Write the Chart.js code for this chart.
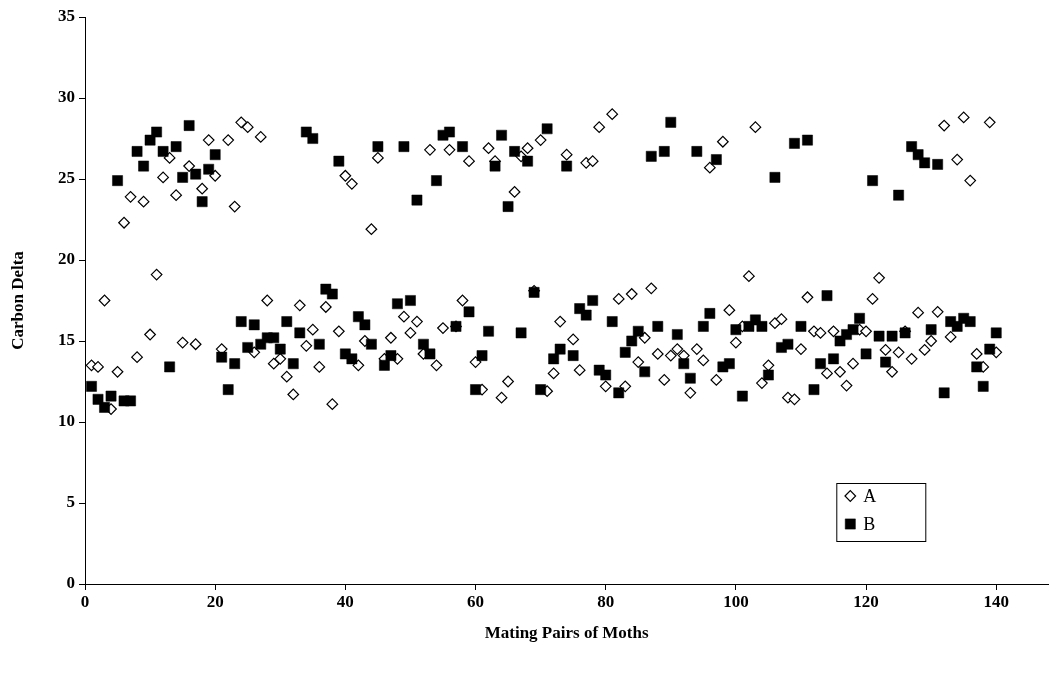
<!DOCTYPE html>
<html>
<head>
<meta charset="utf-8">
<script src="https://cdn.jsdelivr.net/npm/chart.js@4.4.1/dist/chart.umd.min.js"></script>
<style>
  html, body { margin: 0; padding: 0; background: #ffffff; }
  #wrap { width: 1056px; height: 675px; position: relative; }
</style>
</head>
<body>
<div id="wrap"><canvas id="chart" width="1056" height="675"></canvas></div>
<script>
// Mating pair numbers (x) and the carbon delta measured for each partner.
const pairNumbers = Array.from({ length: 140 }, (_, i) => i + 1);

const seriesA = [
  13.5, 13.4, 17.5, 10.8, 13.1, 22.3, 23.9, 14.0, 23.6, 15.4,
  19.1, 25.1, 26.3, 24.0, 14.9, 25.8, 14.8, 24.4, 27.4, 25.2,
  14.5, 27.4, 23.3, 28.5, 28.2, 14.3, 27.6, 17.5, 13.6, 13.9,
  12.8, 11.7, 17.2, 14.7, 15.7, 13.4, 17.1, 11.1, 15.6, 25.2,
  24.7, 13.5, 15.0, 21.9, 26.3, 13.9, 15.2, 13.9, 16.5, 15.5,
  16.2, 14.2, 26.8, 13.5, 15.8, 26.8, 15.9, 17.5, 26.1, 13.7,
  12.0, 26.9, 26.1, 11.5, 12.5, 24.2, 26.4, 26.9, 18.1, 27.4,
  11.9, 13.0, 16.2, 26.5, 15.1, 13.2, 26.0, 26.1, 28.2, 12.2,
  29.0, 17.6, 12.2, 17.9, 13.7, 15.2, 18.25, 14.2, 12.6, 14.1,
  14.5, 14.1, 11.8, 14.5, 13.8, 25.7, 12.6, 27.3, 16.9, 14.9,
  15.9, 19.0, 28.2, 12.4, 13.5, 16.1, 16.35, 11.5, 11.4, 14.5,
  17.7, 15.6, 15.5, 13.0, 15.6, 13.1, 12.25, 13.6, 15.7, 15.6,
  17.6, 18.9, 14.45, 13.1, 14.3, 15.6, 13.9, 16.75, 14.45, 15.0,
  16.8, 28.3, 15.25, 26.2, 28.8, 24.9, 14.2, 13.4, 28.5, 14.3
];

const seriesB = [
  12.2, 11.4, 10.9, 11.6, 24.9, 11.3, 11.3, 26.7, 25.8, 27.4,
  27.9, 26.7, 13.4, 27.0, 25.1, 28.3, 25.3, 23.6, 25.6, 26.5,
  14.0, 12.0, 13.6, 16.2, 14.6, 16.0, 14.8, 15.2, 15.2, 14.5,
  16.2, 13.6, 15.5, 27.9, 27.5, 14.8, 18.2, 17.9, 26.1, 14.2,
  13.9, 16.5, 16.0, 14.8, 27.0, 13.5, 14.1, 17.3, 27.0, 17.5,
  23.7, 14.8, 14.2, 24.9, 27.7, 27.9, 15.9, 27.0, 16.8, 12.0,
  14.1, 15.6, 25.8, 27.7, 23.3, 26.7, 15.5, 26.1, 18.0, 12.0,
  28.1, 13.9, 14.5, 25.8, 14.1, 17.0, 16.6, 17.5, 13.2, 12.9,
  16.2, 11.8, 14.3, 15.0, 15.6, 13.1, 26.4, 15.9, 26.7, 28.5,
  15.4, 13.6, 12.7, 26.7, 15.9, 16.7, 26.2, 13.4, 13.6, 15.7,
  11.6, 15.9, 16.3, 15.9, 12.9, 25.1, 14.6, 14.8, 27.2, 15.9,
  27.4, 12.0, 13.6, 17.8, 13.9, 15.0, 15.4, 15.7, 16.4, 14.2,
  24.9, 15.3, 13.7, 15.3, 24.0, 15.5, 27.0, 26.5, 26.0, 15.7,
  25.9, 11.8, 16.2, 15.9, 16.4, 16.2, 13.4, 12.2, 14.5, 15.5
];

const xTicks = [0, 20, 40, 60, 80, 100, 120, 140];
const yTicks = [0, 5, 10, 15, 20, 25, 30, 35];
const seriesNames = ['A', 'B'];

const toPoints = (vals) => vals.map((v, i) => ({ x: pairNumbers[i], y: v }));

const SERIF = "'Liberation Serif', 'Times New Roman', serif";
const tickFont = { family: SERIF, size: 17, weight: 'bold' };
const titleFont = { family: SERIF, size: 17, weight: 'bold' };

// Boxed legend inside the plot, lower right
const boxLegend = {
  id: 'boxLegend',
  afterDraw(chart) {
    const ctx = chart.ctx;
    const a = chart.chartArea;
    const bx = a.right - 212, by = a.bottom - 101, bw = 89, bh = 58;
    ctx.save();
    ctx.fillStyle = '#ffffff';
    ctx.fillRect(bx, by, bw, bh);
    ctx.strokeStyle = '#000000';
    ctx.lineWidth = 1;
    ctx.strokeRect(bx + 0.5, by + 0.5, bw, bh);
    ctx.font = '18px ' + SERIF;
    ctx.textBaseline = 'middle';
    chart.data.datasets.forEach((ds, i) => {
      const cy = by + 13 + i * 28;
      const cx = bx + 14;
      ctx.fillStyle = ds.backgroundColor;
      ctx.strokeStyle = ds.borderColor;
      ctx.lineWidth = ds.borderWidth;
      Chart.helpers.drawPoint(ctx, {
        pointStyle: ds.pointStyle,
        radius: ds.pointRadius,
        borderWidth: ds.borderWidth,
        rotation: 0
      }, cx, cy);
      ctx.fillStyle = '#000000';
      ctx.fillText(ds.label, bx + 27, cy + 1);
    });
    ctx.restore();
  }
};

new Chart(document.getElementById('chart'), {
  type: 'scatter',
  data: {
    datasets: [
      {
        label: seriesNames[0],
        data: toPoints(seriesA),
        pointStyle: 'rectRot',
        pointRadius: 5.3,
        pointHoverRadius: 5.3,
        backgroundColor: '#ffffff',
        borderColor: '#000000',
        borderWidth: 1.2,
        order: 1
      },
      {
        label: seriesNames[1],
        data: toPoints(seriesB),
        pointStyle: 'rect',
        pointRadius: 7.2,
        pointHoverRadius: 7.2,
        backgroundColor: '#000000',
        borderColor: '#000000',
        borderWidth: 0.5,
        order: 0
      }
    ]
  },
  options: {
    responsive: false,
    animation: false,
    events: [],
    layout: { padding: { left: 0, top: 17, right: 4, bottom: 0 } },
    plugins: {
      legend: { display: false },
      tooltip: { enabled: false }
    },
    scales: {
      x: {
        type: 'linear',
        min: 0,
        max: 148,
        afterFit(scale) { scale.height = 91; },
        afterBuildTicks(scale) { scale.ticks = xTicks.map(v => ({ value: v })); },
        ticks: {
          includeBounds: false,
          font: tickFont,
          color: '#000000',
          padding: 2,
          maxRotation: 0
        },
        grid: {
          drawOnChartArea: false,
          drawTicks: true,
          tickLength: 6,
          tickColor: '#000000',
          tickWidth: 1
        },
        border: { display: true, color: '#000000', width: 1 },
        title: {
          display: true,
          text: 'Mating Pairs of Moths',
          font: titleFont,
          color: '#000000',
          padding: { top: 4, bottom: 31 }
        }
      },
      y: {
        type: 'linear',
        min: 0,
        max: 35,
        afterFit(scale) { scale.width = 85; },
        afterBuildTicks(scale) { scale.ticks = yTicks.map(v => ({ value: v })); },
        ticks: {
          font: tickFont,
          color: '#000000',
          padding: 4
        },
        grid: {
          drawOnChartArea: false,
          drawTicks: true,
          tickLength: 6,
          tickColor: '#000000',
          tickWidth: 1
        },
        border: { display: true, color: '#000000', width: 1 },
        title: {
          display: true,
          text: 'Carbon Delta',
          font: titleFont,
          color: '#000000',
          padding: { top: 8, bottom: 4 }
        }
      }
    }
  },
  plugins: [boxLegend]
});
</script>
</body>
</html>
